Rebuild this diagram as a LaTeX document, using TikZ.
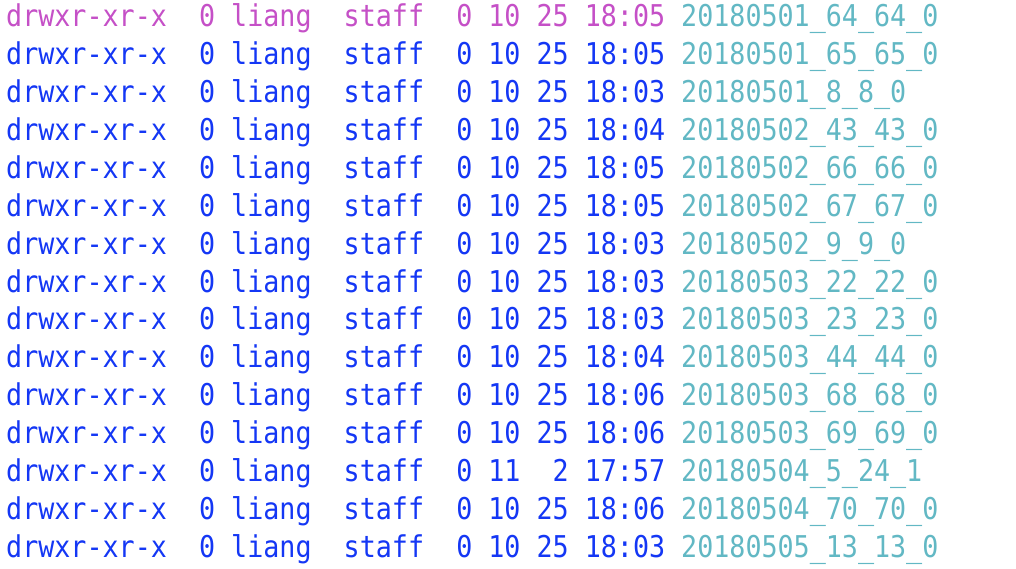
\documentclass[tikz,border=0pt]{standalone}
\usepackage{fontspec}
\setmonofont[FakeStretch=0.89]{DejaVu Sans Mono}
\definecolor{mag}{RGB}{197,80,199}
\definecolor{termblue}{RGB}{20,55,245}
\definecolor{termcyan}{RGB}{98,184,196}
\begin{document}
\begin{tikzpicture}[x=1pt,y=-1pt,
  txt/.style={anchor=base west, inner sep=0pt, font=\ttfamily\fontsize{30}{30}\selectfont},
  perm/.style={txt, text=termblue},
  first/.style={txt, text=mag},
  fname/.style={txt, text=termcyan}]
\useasboundingbox (0,0) rectangle (1016,568);
\fill[white] (0,0) rectangle (1016,568);
\node[first] (l1) at (6,26.7) {drwxr-xr-x~~0~liang~~staff~~0~10~25~18:05};
\node[fname] (f1) at (681,26.7) {20180501\_64\_64\_0};
\foreach \i/\p/\f in {
  2/{0~10~25~18:05}/{20180501\_65\_65\_0},
  3/{0~10~25~18:03}/{20180501\_8\_8\_0},
  4/{0~10~25~18:04}/{20180502\_43\_43\_0},
  5/{0~10~25~18:05}/{20180502\_66\_66\_0},
  6/{0~10~25~18:05}/{20180502\_67\_67\_0},
  7/{0~10~25~18:03}/{20180502\_9\_9\_0},
  8/{0~10~25~18:03}/{20180503\_22\_22\_0},
  9/{0~10~25~18:03}/{20180503\_23\_23\_0},
  10/{0~10~25~18:04}/{20180503\_44\_44\_0},
  11/{0~10~25~18:06}/{20180503\_68\_68\_0},
  12/{0~10~25~18:06}/{20180503\_69\_69\_0},
  13/{0~11~~2~17:57}/{20180504\_5\_24\_1},
  14/{0~10~25~18:06}/{20180504\_70\_70\_0},
  15/{0~10~25~18:03}/{20180505\_13\_13\_0}} {
  \pgfmathsetmacro{\yy}{26.7+(\i-1)*37.9}
  \node[perm] (l\i) at (6,\yy) {drwxr-xr-x~~0~liang~~staff~~\p};
  \node[fname] (f\i) at (681,\yy) {\f};
}
\end{tikzpicture}
\end{document}
